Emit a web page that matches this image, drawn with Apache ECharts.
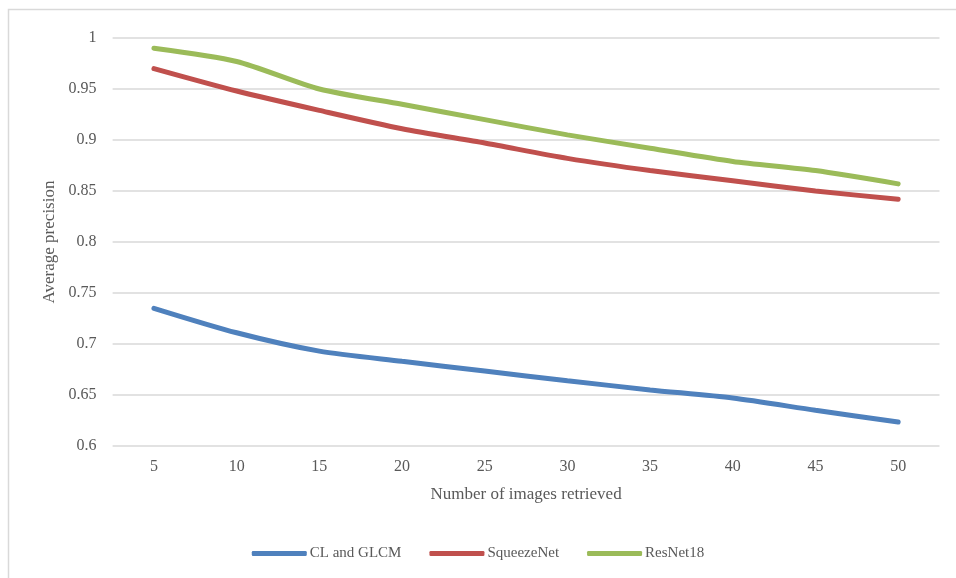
<!DOCTYPE html>
<html><head><meta charset="utf-8">
<script src="https://cdn.jsdelivr.net/npm/echarts@6/dist/echarts.min.js"></script>
<style>html,body{margin:0;padding:0;background:#fff}#c{width:956px;height:578px}</style>
</head><body><div id="c"></div>
<script>
const categories = ['5','10','15','20','25','30','35','40','45','50'];
const clGlcm = [0.735,0.711,0.693,0.683,0.6735,0.664,0.655,0.647,0.635,0.6235];
const squeezeNet = [0.970,0.948,0.929,0.911,0.897,0.882,0.870,0.860,0.850,0.842];
const resNet18 = [0.990,0.977,0.950,0.935,0.920,0.905,0.892,0.879,0.870,0.857];
const seriesNames = ['CL and GLCM','SqueezeNet','ResNet18'];
const colors = ['#4F81BD','#C0504D','#9BBB59'];
const font = '"Liberation Serif", "DejaVu Serif", serif';
const chart = echarts.init(document.getElementById('c'));
const mk = (name, data, color) => ({
  name, type:'line', data, smooth:0.25, symbol:'none',
  lineStyle:{width:5,color,cap:'round'}, itemStyle:{color}
});
chart.setOption({
  animation:false,
  textStyle:{fontFamily:font,color:'#595959'},
  graphic:[{type:'rect',shape:{x:8.5,y:9.5,width:980,height:620},style:{fill:null,stroke:'#d9d9d9',lineWidth:1.5},z:-1}],
  grid:{left:112.6,right:16.5,top:38,bottom:132},
  legend:{bottom:12,left:'center',itemWidth:55,itemHeight:5,itemGap:28,
    icon:'roundRect',
    textStyle:{fontFamily:font,fontSize:15,color:'#595959',padding:[0,0,0,-2]},
    data:seriesNames},
  xAxis:{type:'category',data:categories,boundaryGap:true,
    name:'Number of images retrieved',nameLocation:'middle',nameGap:40,
    nameTextStyle:{fontFamily:font,fontSize:17,color:'#595959'},
    axisLine:{show:false},axisTick:{show:false},
    axisLabel:{fontFamily:font,fontSize:16,color:'#595959',margin:13}},
  yAxis:{type:'value',min:0.6,max:1,interval:0.05,
    name:'Average precision',nameLocation:'middle',nameGap:52,
    nameTextStyle:{fontFamily:font,fontSize:17,color:'#595959'},
    axisLine:{show:false},axisTick:{show:false},
    axisLabel:{fontFamily:font,fontSize:16,color:'#595959',margin:16,
      formatter:v=>String(parseFloat(v.toFixed(2)))},
    splitLine:{lineStyle:{color:'#d9d9d9',width:1.5}}},
  series:[mk(seriesNames[0],clGlcm,colors[0]),mk(seriesNames[1],squeezeNet,colors[1]),mk(seriesNames[2],resNet18,colors[2])]
});
</script></body></html>
